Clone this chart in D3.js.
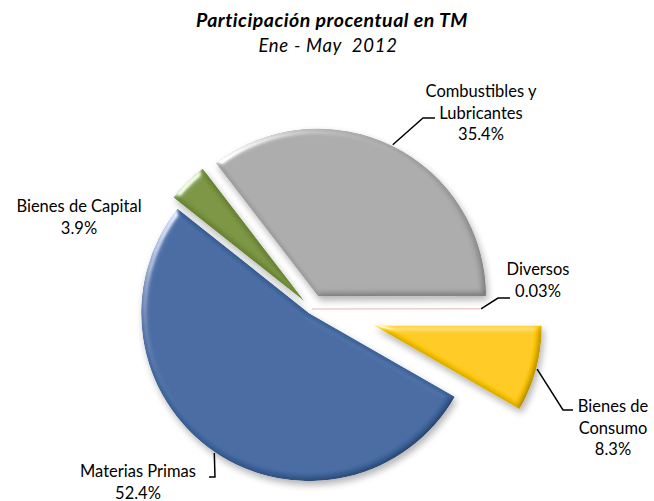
<!DOCTYPE html>
<html>
<head>
<meta charset="utf-8">
<script src="https://cdn.jsdelivr.net/npm/d3@7"></script>
<style>
  body { margin: 0; background: #fff; }
  svg text { font-family: Lato, "Open Sans", sans-serif; fill: #000; }
</style>
</head>
<body>
<div id="chart"></div>
<script>
// data
const categories = ["Bienes de Consumo", "Materias Primas", "Bienes de Capital", "Combustibles y Lubricantes", "Diversos"];
const shares = [8.3, 52.4, 3.9, 35.4, 0.03];
const shareLabels = ["8.3%", "52.4%", "3.9%", "35.4%", "0.03%"];
const labelLines = [["Bienes de", "Consumo"], ["Materias Primas"], ["Bienes de Capital"], ["Combustibles y", "Lubricantes"], ["Diversos"]];
const colors = ["#FFC900", "#3F67A0", "#77933C", "#A9A9A9", "#E6B9B8"];

// layout
const width = 654, height = 501;
const cx = 312, cy = 309, radius = 168;
const explode = [64, 5, 10, 14, 0];
const labelPos = [
  { x: 613, y: 412, elbow: [563, 410], tail: [573, 410] },
  { x: 138, y: 477, elbow: [215, 477], tail: [209, 477] },
  { x: 79, y: 212, elbow: null },
  { x: 481, y: 97, elbow: [423, 118], tail: [435, 118] },
  { x: 538, y: 275, elbow: [498, 298], tail: [510, 298] }
];
const lineH = 21.5;

const svg = d3.select("#chart")
  .append("svg")
  .attr("width", width)
  .attr("height", height);

const defs = svg.append("defs");
const f = defs.append("filter")
  .attr("id", "bevel")
  .attr("x", "-15%").attr("y", "-15%")
  .attr("width", "135%").attr("height", "135%");
f.append("feGaussianBlur").attr("in", "SourceAlpha").attr("stdDeviation", 3).attr("result", "blur");
f.append("feDiffuseLighting")
  .attr("in", "blur").attr("surfaceScale", 3).attr("diffuseConstant", 1.15)
  .attr("lighting-color", "#fff").attr("result", "diff")
  .append("feDistantLight").attr("azimuth", 225).attr("elevation", 60);
f.append("feComposite").attr("in", "SourceGraphic").attr("in2", "diff")
  .attr("operator", "arithmetic").attr("k1", 1).attr("result", "lit");
f.append("feSpecularLighting")
  .attr("in", "blur").attr("surfaceScale", 3).attr("specularConstant", 0.7)
  .attr("specularExponent", 25).attr("lighting-color", "#fff").attr("result", "spec")
  .append("feDistantLight").attr("azimuth", 225).attr("elevation", 30);
f.append("feComposite").attr("in", "spec").attr("in2", "SourceAlpha")
  .attr("operator", "in").attr("result", "specIn");
f.append("feComposite").attr("in", "lit").attr("in2", "specIn")
  .attr("operator", "arithmetic").attr("k2", 1).attr("k3", 1).attr("result", "bev");
f.append("feComposite").attr("in", "bev").attr("in2", "SourceAlpha")
  .attr("operator", "in").attr("result", "bevIn");
f.append("feGaussianBlur").attr("in", "SourceAlpha").attr("stdDeviation", 3.5).attr("result", "sb");
f.append("feOffset").attr("in", "sb").attr("dx", 2).attr("dy", 4).attr("result", "so");
f.append("feComponentTransfer").attr("in", "so").attr("result", "shadow")
  .append("feFuncA").attr("type", "linear").attr("slope", 0.3);
const merge = f.append("feMerge");
merge.append("feMergeNode").attr("in", "shadow");
merge.append("feMergeNode").attr("in", "bevIn");

// title
svg.append("text")
  .attr("x", 332).attr("y", 27)
  .attr("text-anchor", "middle")
  .style("font-size", "19.5px").style("font-weight", "bold").style("font-style", "italic")
  .style("letter-spacing", "0.5px")
  .text("Participación procentual en TM");
svg.append("text")
  .attr("x", 328).attr("y", 52)
  .attr("text-anchor", "middle")
  .style("font-size", "18.5px").style("font-style", "italic")
  .style("letter-spacing", "0.7px")
  .style("white-space", "pre")
  .text("Ene - May  2012");

const pie = d3.pie()
  .sort(null)
  .startAngle(Math.PI / 2)
  .endAngle(Math.PI / 2 + 2 * Math.PI);
const arcs = pie(shares);
const arc = d3.arc().innerRadius(0).outerRadius(radius);

const offset = (d, i) => {
  const a = (d.startAngle + d.endAngle) / 2;
  return [cx + explode[i] * Math.sin(a), cy - explode[i] * Math.cos(a)];
};

const g = svg.append("g");
g.selectAll("path")
  .data(arcs)
  .enter()
  .append("path")
  .attr("d", arc)
  .attr("transform", (d, i) => `translate(${offset(d, i)})`)
  .attr("fill", (d, i) => colors[i])
  .attr("stroke", (d, i) => i === 4 ? colors[i] : "none")
  .attr("stroke-width", 0.6)
  .attr("filter", (d, i) => i === 4 ? null : "url(#bevel)");

// leader lines
arcs.forEach((d, i) => {
  const p = labelPos[i];
  if (!p.elbow) return;
  const a = (d.startAngle + d.endAngle) / 2;
  const [ox, oy] = offset(d, i);
  const start = [ox + (radius + 1) * Math.sin(a), oy - (radius + 1) * Math.cos(a)];
  svg.append("polyline")
    .attr("points", [start, p.elbow, p.tail].map(q => q.join(",")).join(" "))
    .attr("fill", "none")
    .attr("stroke", "#000")
    .attr("stroke-width", 1.5);
});

// labels
arcs.forEach((d, i) => {
  const p = labelPos[i];
  const lines = labelLines[i].concat([shareLabels[i]]);
  const t = svg.append("text")
    .attr("text-anchor", "middle")
    .style("font-size", "16.5px");
  lines.forEach((s, k) => {
    t.append("tspan").attr("x", p.x).attr("y", p.y + k * lineH).text(s);
  });
});
</script>
</body>
</html>
